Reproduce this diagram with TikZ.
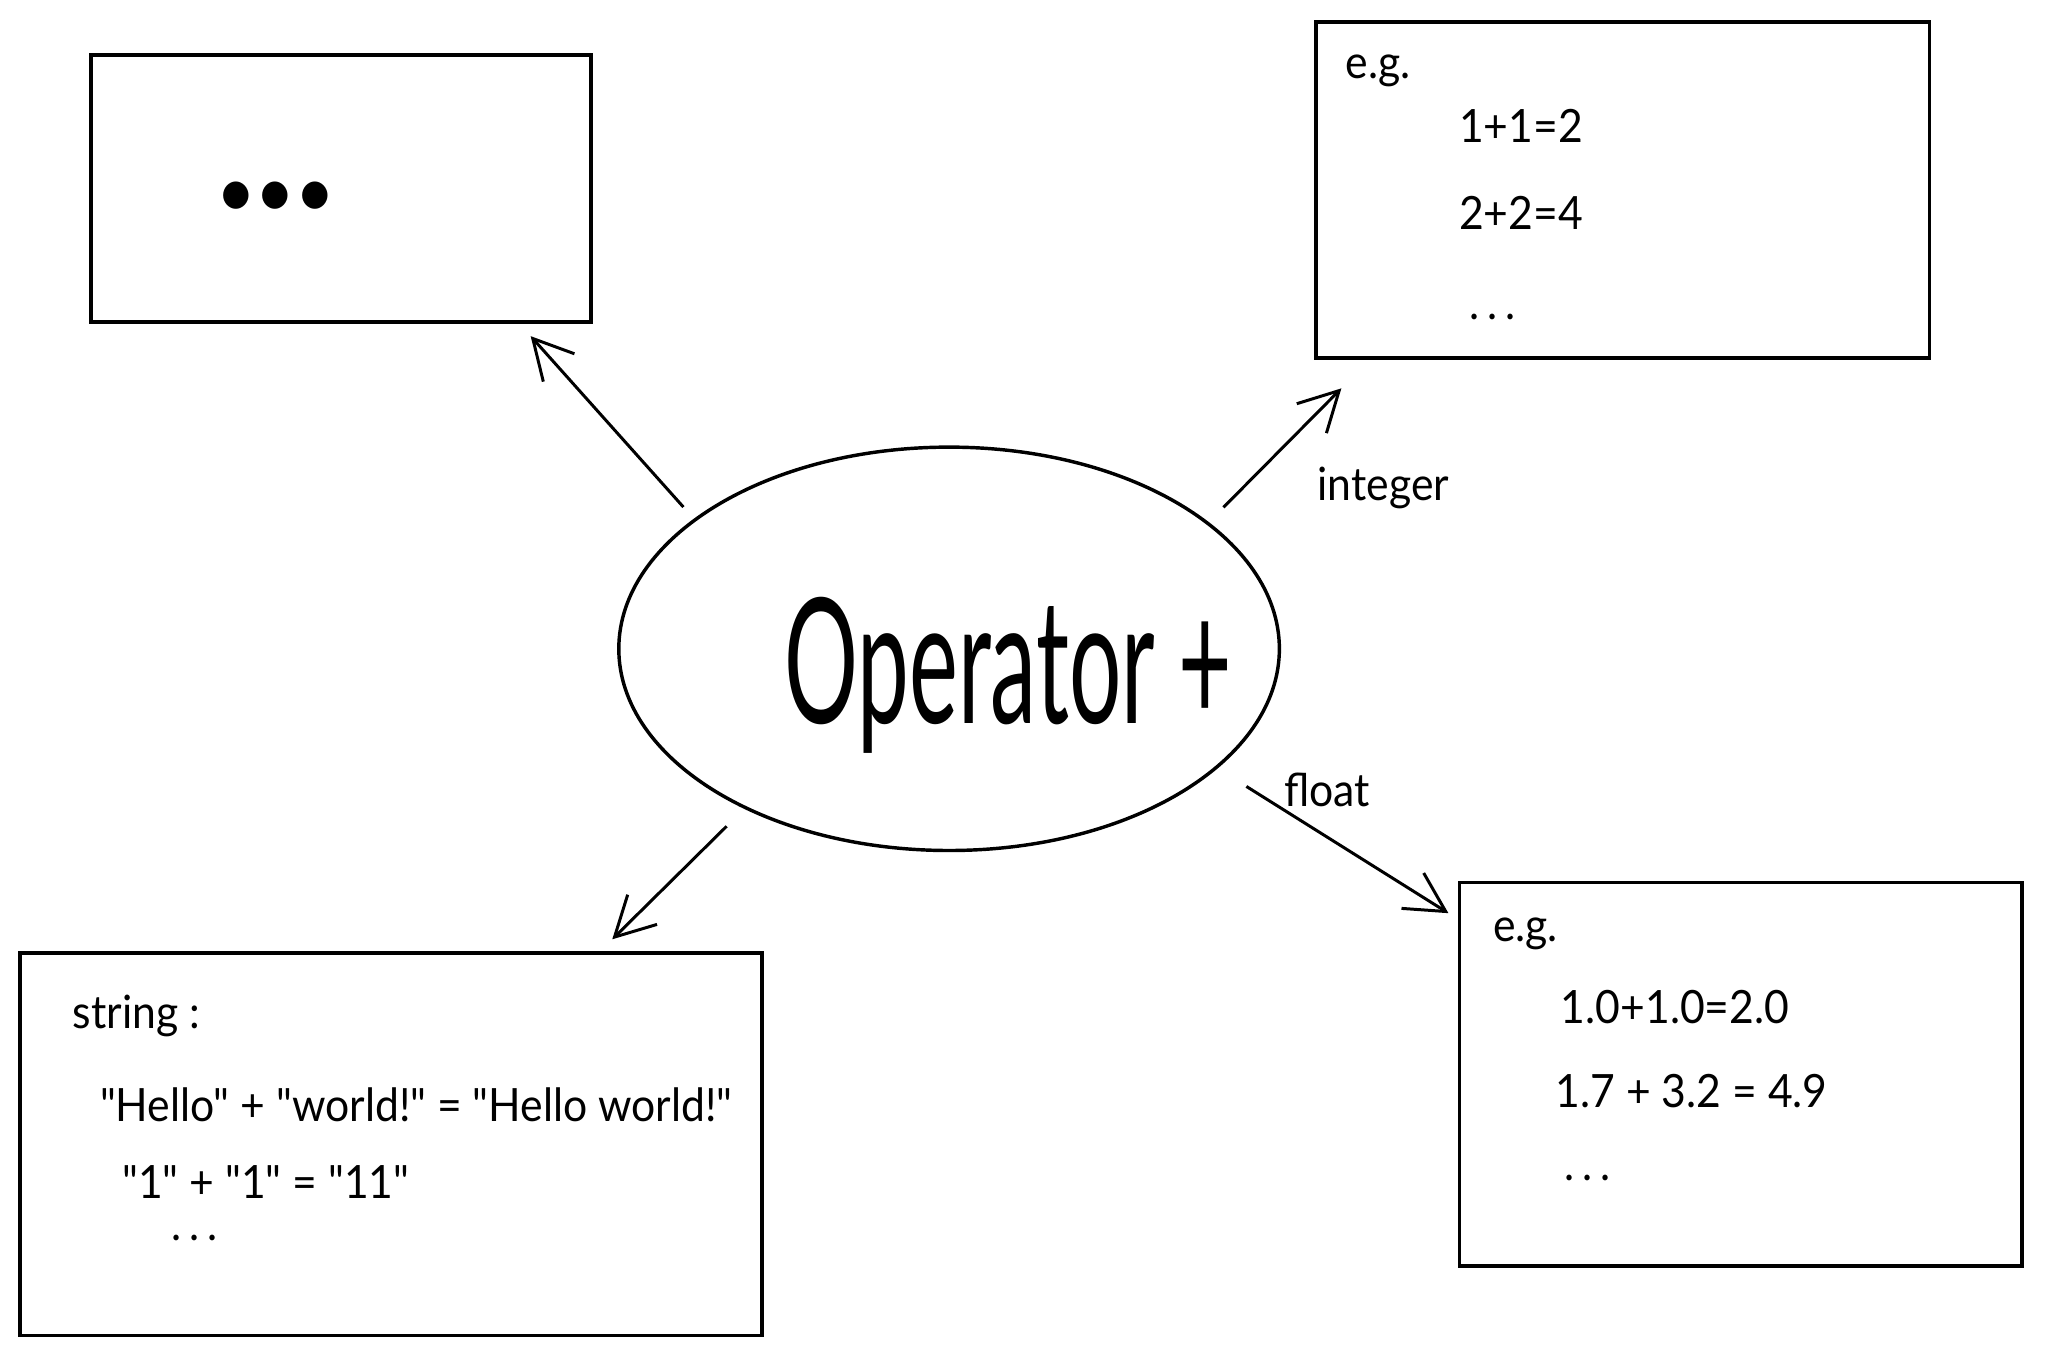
\documentclass[tikz,border=0pt]{standalone}
\usepackage{fontspec}
\setmainfont{Lato}
\newfontfamily\handfont[FakeStretch=0.93]{Lato}
\newfontfamily\narrowfont[FakeStretch=0.53]{Lato}
\usetikzlibrary{shapes.geometric, arrows.meta, calc}
\tikzstyle{frame} = [rectangle, draw=black, line width=0.85pt, inner sep=0pt]
\tikzstyle{bubble} = [ellipse, draw=black, line width=0.75pt, minimum width=50.6mm, minimum height=30.9mm, inner sep=0pt]
\tikzstyle{txt} = [anchor=base west, inner sep=0pt, font=\handfont\fontsize{10}{12}\selectfont]
\tikzstyle{arrow} = [line width=0.65pt, -{Straight Barb[length=3mm, width=3.2mm]}]

\begin{document}
\begin{tikzpicture}[x=0.1mm, y=-0.1mm]
  \useasboundingbox (0,0) rectangle (1568,1039);
  % centre and the four boxes
  \node (op) [bubble] at (727,497) {};
  \node (optext) [anchor=base west, inner sep=0pt, font=\narrowfont\fontsize{38}{40}\selectfont] at (600,554) {Operator +};
  \node (other) [frame, minimum width=38.3mm, minimum height=20.5mm] at (261.5,144.5) {};
  \node (intbox) [frame, minimum width=47mm, minimum height=25.7mm] at (1243,145.5) {};
  \node (strbox) [frame, minimum width=56.8mm, minimum height=29.3mm] at (299.5,876.5) {};
  \node (fltbox) [frame, minimum width=43.1mm, minimum height=29.4mm] at (1333.5,823) {};
  % box contents
  \node (moredots) [anchor=center, inner sep=0pt, font=\handfont\fontsize{16}{16}\selectfont] at (211,153) {•••};
  \node (integ) [txt] at (1030,60) {e.g.};
  \node (int1) [txt] at (1117,109) {1+1=2};
  \node (int2) [txt] at (1117,176) {2+2=4};
  \node (int3) [txt] at (1125,245) {.\,.\,.};
  \node (flteg) [txt] at (1143,721) {e.g.};
  \node (flt1) [txt] at (1195,784) {1.0+1.0=2.0};
  \node (flt2) [txt] at (1191,848) {1.7 + 3.2 = 4.9};
  \node (flt3) [txt] at (1198,904) {.\,.\,.};
  \node (strtitle) [txt] at (55,788) {string :};
  \node (str1) [txt] at (76,859) {"Hello" + "world!" = "Hello world!"};
  \node (str2) [txt] at (93,918) {"1" + "1" = "11"};
  \node (str3) [txt] at (131,950) {.\,.\,.};
  % arrows
  \draw [arrow, shorten <=1.2mm] (op.153) -- ($(other.south east)+(-48,9)$);
  \draw [arrow, shorten <=1.6mm] (op.26) -- node[txt, xshift=3.15mm, yshift=-3.45mm] {integer} ($(intbox.south west)+(21,22)$);
  \draw [arrow, shorten <=1.9mm] (op.218) -- ($(strbox.north east)+(-116,-9)$);
  \draw [arrow, shorten <=2.6mm] (op.336) -- node[txt, xshift=-3.85mm, yshift=2.6mm] {float} ($(fltbox.north west)+(-7,25)$);
\end{tikzpicture}
\end{document}
